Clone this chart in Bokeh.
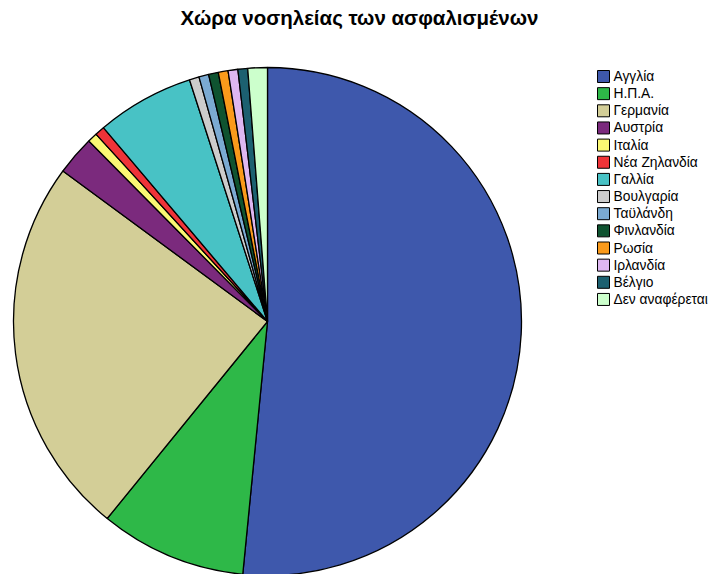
import numpy as np
from bokeh.plotting import figure
from bokeh.models import ColumnDataSource, Range1d
from bokeh.core.properties import value
from bokeh.embed import file_html
from bokeh.resources import INLINE

countries = ["Αγγλία", "Η.Π.Α.", "Γερμανία", "Αυστρία", "Ιταλία", "Νέα Ζηλανδία",
             "Γαλλία", "Βουλγαρία", "Ταϋλάνδη", "Φινλανδία", "Ρωσία", "Ιρλανδία",
             "Βέλγιο", "Δεν αναφέρεται"]
counts = [83, 15, 39, 4, 1, 1, 10, 1, 1, 1, 1, 1, 1, 2]
colors = ["#3E58AC", "#2EB848", "#D3CE97", "#7B2A7D", "#FBF873", "#EF3338",
          "#48C2C5", "#CCCCCC", "#7BAAD2", "#0F5330", "#FA9A1B", "#DEB7F1",
          "#1C6070", "#CCFFCC"]
title_text = "Χώρα νοσηλείας των ασφαλισμένων"

W, H = 710, 574
p = figure(width=W, height=H, output_backend="svg", toolbar_location=None,
           x_range=Range1d(0, W), y_range=Range1d(0, H),
           min_border=0, outline_line_color=None)
p.axis.visible = False
p.grid.visible = False

cnt = np.array(counts, dtype=float)
frac = cnt / cnt.sum()
cum = np.concatenate([[0], np.cumsum(frac)]) * 2 * np.pi
theta1 = cum[:-1]
theta2 = cum[1:]
start = np.pi / 2 - theta2
end = np.pi / 2 - theta1

cx, cy, r = 267, H - 321, 254
src = ColumnDataSource(dict(start=start, end=end, color=colors, name=countries))
p.wedge(x=cx, y=cy, radius=r, start_angle="start", end_angle="end",
        fill_color="color", line_color="black", line_width=1.3, source=src)

# legend
n = len(countries)
ly = [H - (76 + i * 17.15) for i in range(n)]
lsrc = ColumnDataSource(dict(x=[603] * n, y=ly, tx=[613] * n, color=colors, name=countries))
p.rect(x="x", y="y", width=12, height=12, fill_color="color", line_color="black",
       line_width=1, source=lsrc)
p.text(x="tx", y="y", text="name", text_font=value("Liberation Sans"),
       text_font_size="13.8px", text_baseline="middle", text_align="left",
       text_color="black", source=lsrc)

p.text(x=[359], y=[H - 17], text=[title_text], text_font=value("Liberation Sans"),
       text_font_size="20.5px", text_font_style="bold", text_baseline="middle",
       text_align="center", text_color="black")

open("out.html", "w").write(file_html(p, INLINE))
